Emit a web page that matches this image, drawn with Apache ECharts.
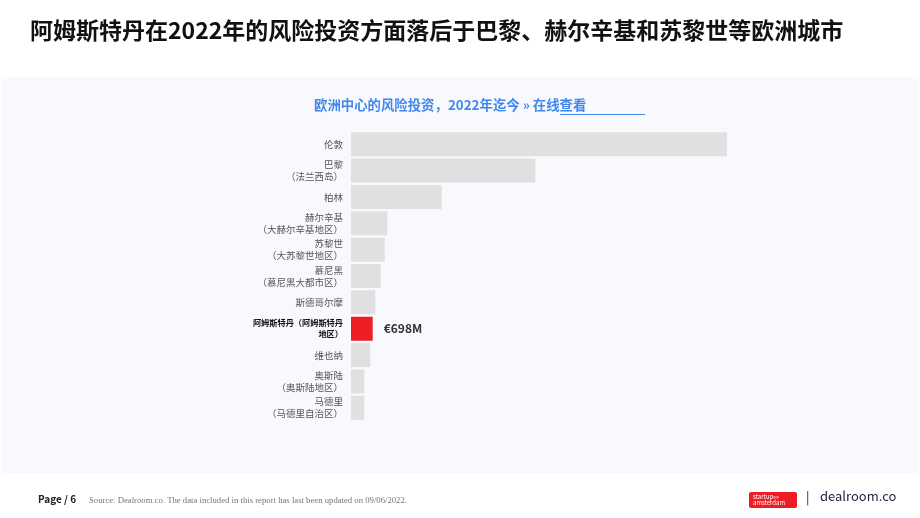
<!DOCTYPE html>
<html>
<head>
<meta charset="utf-8">
<script src="https://cdn.jsdelivr.net/npm/echarts@6/dist/echarts.min.js"></script>
<style>
  html, body { margin: 0; padding: 0; background: #fff; }
  #main { width: 920px; height: 518px; }
</style>
</head>
<body>
<div id="main"></div>
<script>
// 2022年迄今 风险投资（百万欧元），按图中条长估算
var cities = [
  '伦敦',
  '巴黎\n（法兰西岛）',
  '柏林',
  '赫尔辛基\n（大赫尔辛基地区）',
  '苏黎世\n（大苏黎世地区）',
  '慕尼黑\n（慕尼黑大都市区）',
  '斯德哥尔摩',
  '阿姆斯特丹（阿姆斯特丹\n地区）',
  '维也纳',
  '奥斯陆\n（奥斯陆地区）',
  '马德里\n（马德里自治区）'
];
var values = [12100, 5930, 2920, 1170, 1085, 956, 782, 698, 621, 430, 428];
var highlight = '阿姆斯特丹（阿姆斯特丹\n地区）';
var highlightLabel = '€698M';

var font = '"Noto Sans CJK SC", "Noto Sans", sans-serif';
var chart = echarts.init(document.getElementById('main'));

var barData = values.map(function (v, i) {
  var hot = cities[i] === highlight;
  return {
    value: v,
    itemStyle: { color: hot ? '#ee1c25' : '#e0e0e0' },
    label: {
      show: hot,
      position: 'right',
      distance: 11,
      formatter: highlightLabel,
      color: '#333',
      fontSize: 12,
      fontWeight: 'bold',
      fontFamily: font
    }
  };
});

var option = {
  backgroundColor: '#fff',
  animation: false,
  graphic: [
    // 浅色面板
    { type: 'rect', left: 1, top: 77, shape: { width: 918, height: 396 }, style: { fill: '#f8f9fd' }, z: -10 },
    { type: 'text', left: 30, top: 19, style: { text: '阿姆斯特丹在2022年的风险投资方面落后于巴黎、赫尔辛基和苏黎世等欧洲城市', fill: '#111', font: 'bold 23px ' + font } },
    { type: 'text', left: 314, top: 98, style: { text: '欧洲中心的风险投资，2022年迄今 » 在线查看', fill: '#4188ee', font: 'bold 13.4px ' + font } },
    { type: 'line', shape: { x1: 560, y1: 114.5, x2: 645, y2: 114.5 }, style: { stroke: '#4188ee', lineWidth: 1 } },
    // 页脚
    { type: 'text', left: 38, top: 494, style: { text: 'Page / 6', fill: '#222', font: 'bold 10px ' + font } },
    { type: 'text', left: 89, top: 496, style: { text: 'Source: Dealroom.co. The data included in this report has last been updated on 09/06/2022.', fill: '#777', font: '8.7px "Liberation Serif", serif' } },
    { type: 'rect', left: 749, top: 492, shape: { width: 48, height: 16, r: 2 }, style: { fill: '#ee1c25' } },
    { type: 'text', left: 753, top: 493, style: { text: 'startup»»\namsterdam', fill: '#fff', font: '6px ' + font, lineHeight: 6.5 } },
    { type: 'text', left: 806, top: 491, style: { text: '|', fill: '#1b2340', font: '13px ' + font } },
    { type: 'text', left: 820, top: 490, style: { text: 'dealroom.co', fill: '#1b2340', font: '13px ' + font } }
  ],
  grid: { left: 351, top: 131, width: 376, height: 290 },
  xAxis: {
    type: 'value',
    min: 0,
    max: 'dataMax',
    show: false
  },
  yAxis: {
    type: 'category',
    data: cities,
    inverse: true,
    axisLine: { show: false },
    axisTick: { show: false },
    splitLine: { show: false },
    axisLabel: {
      margin: 8,
      align: 'right',
      color: '#555',
      fontSize: 9.5,
      lineHeight: 12,
      fontFamily: font,
      formatter: function (v) {
        return v === highlight ? '{hot|' + v.replace('\n', '}\n{hot|') + '}' : v;
      },
      rich: {
        hot: { color: '#111', fontSize: 8.2, fontWeight: 'bold', lineHeight: 11, fontFamily: font }
      }
    }
  },
  series: [{
    type: 'bar',
    data: barData,
    barCategoryGap: '9%'
  }]
};

chart.setOption(option);
</script>
</body>
</html>
